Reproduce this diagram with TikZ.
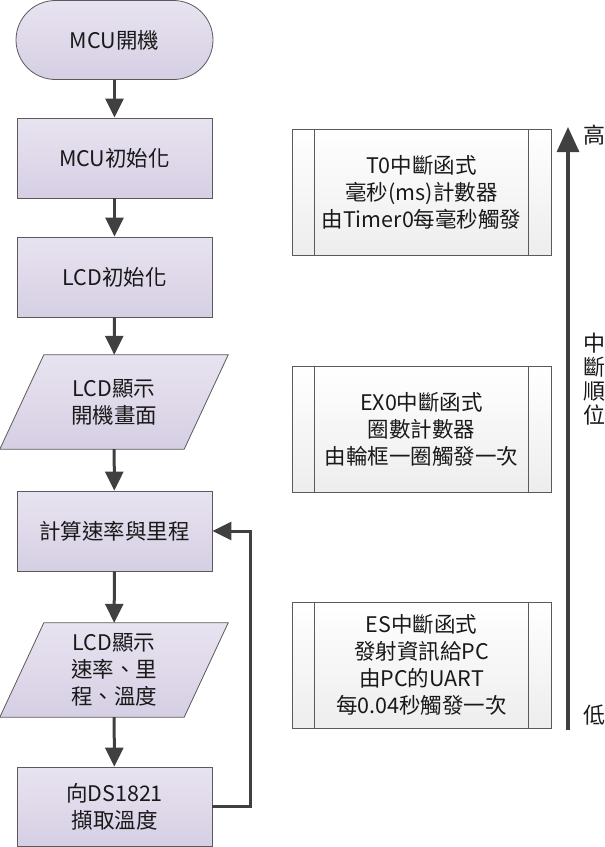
\documentclass[tikz,border=0pt]{standalone}
\usepackage{fontspec}
\setmainfont{Noto Sans CJK TC}
\usetikzlibrary{arrows.meta,calc}
\definecolor{lavtop}{RGB}{232,227,240}
\definecolor{lavbot}{RGB}{214,207,228}
\definecolor{edge}{RGB}{90,90,90}
\definecolor{arrowc}{RGB}{64,64,64}
\definecolor{txt}{RGB}{25,25,25}
\begin{document}
\begin{tikzpicture}[x=1pt,y=-1pt,
  every node/.style={font=\fontsize{21.5}{27}\selectfont, align=center, inner sep=0pt, text=txt},
  flowbox/.style={draw=edge, line width=0.8pt, top color=lavtop, bottom color=lavbot, minimum width=195pt, minimum height=80pt},
  termbox/.style={flowbox, minimum width=197pt, minimum height=79pt, rounded corners=39.5pt},
  iobox/.style={minimum width=228pt, minimum height=94pt},
  iofill/.style={draw=edge, line width=0.8pt, top color=lavtop, bottom color=lavbot},
  procbox/.style={draw=edge, line width=0.8pt, top color=white, bottom color=black!7, minimum width=259pt, minimum height=126pt},
  arr/.style={draw=arrowc, line width=3pt, -{Triangle[width=18pt,length=19pt]}},
  prio/.style={draw=arrowc, line width=3.2pt, -{Triangle[width=22pt,length=25pt]}}
]
\useasboundingbox (0,0) rectangle (605,847);

% left flowchart
\node[termbox] (start) at (114.5,40) {MCU開機};
\node[flowbox] (init1) at (114.5,158) {MCU初始化};
\node[flowbox] (init2) at (114.5,277) {LCD初始化};
\node[iobox] (disp1) at (114,402) {};
\path[iofill] ([xshift=44pt]disp1.north west) -- (disp1.north east) -- ([xshift=-44pt]disp1.south east) -- (disp1.south west) -- cycle;
\node at (disp1.center) {LCD顯示\\開機畫面};
\node[flowbox] (calc) at (114.5,531) {計算速率與里程};
\node[iobox] (disp2) at (114,670) {};
\path[iofill] ([xshift=44pt]disp2.north west) -- (disp2.north east) -- ([xshift=-44pt]disp2.south east) -- (disp2.south west) -- cycle;
\node at (disp2.center) {LCD顯示\\速率、里\\程、溫度};
\node[flowbox, minimum height=79pt] (temp) at (114.5,806.5) {向DS1821\\擷取溫度};

\draw[arr] (start) -- (init1);
\draw[arr] (init1) -- (init2);
\draw[arr] (init2) -- (disp1);
\draw[arr] (disp1) -- (calc);
\draw[arr] (calc) -- (disp2);
\draw[arr] (disp2) -- (temp);
\draw[arr] (temp.east) -- ++(38,0) |- (calc.east);

% right interrupt boxes
\node[procbox] (t0) at (421.5,192) {T0中斷函式\\毫秒(ms)計數器\\由Timer0每毫秒觸發};
\node[procbox] (ex0) at (421.5,429) {EX0中斷函式\\圈數計數器\\由輪框一圈觸發一次};
\node[procbox] (es) at (421.5,665) {ES中斷函式\\發射資訊給PC\\由PC的UART\\每0.04秒觸發一次};
\foreach \b in {t0,ex0,es}{
  \draw[draw=edge, line width=0.8pt] ([xshift=23pt]\b.north west) -- ([xshift=23pt]\b.south west);
  \draw[draw=edge, line width=0.8pt] ([xshift=-23pt]\b.north east) -- ([xshift=-23pt]\b.south east);
}

% priority arrow
\coordinate (plo) at (568,730);
\coordinate (phi) at (568,127);
\draw[prio] (plo) -- (phi);
\node[font=\fontsize{22}{24}\selectfont] (high) at (594,135) {高};
\node[font=\fontsize{22}{24}\selectfont] (mid) at (594,379) {中\\斷\\順\\位};
\node[font=\fontsize{22}{24}\selectfont] (low) at (594,715) {低};
\end{tikzpicture}
\end{document}
